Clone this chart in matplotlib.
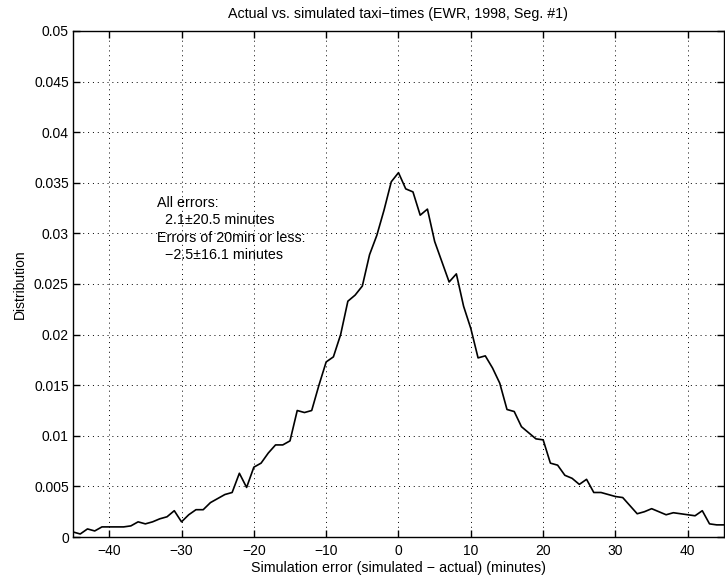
import numpy as np
import matplotlib
matplotlib.use("Agg")
import matplotlib.pyplot as plt
from matplotlib.ticker import FormatStrFormatter

# Simulation error bins (minutes), one per minute
minutes = list(range(-45, 46))

# Distribution
dist = [
    0.0005, 0.0003, 0.0008, 0.0006, 0.0010,   # -45..-41
    0.0010, 0.0010, 0.0010, 0.0011, 0.0015,   # -40..-36
    0.0013, 0.0015, 0.0018, 0.0020, 0.0026,   # -35..-31
    0.0015, 0.0022, 0.0027, 0.0027, 0.0034,   # -30..-26
    0.0038, 0.0042, 0.0044, 0.0063, 0.0049,   # -25..-21
    0.0069, 0.0073, 0.0083, 0.0091, 0.0091,   # -20..-16
    0.0095, 0.0125, 0.0123, 0.0125, 0.0150,   # -15..-11
    0.0173, 0.0178, 0.0200, 0.0233, 0.0239,   # -10..-6
    0.0248, 0.0279, 0.0298, 0.0323, 0.0351,   # -5..-1
    0.0360,                                   # 0
    0.0344, 0.0341, 0.0318, 0.0324, 0.0292,   # 1..5
    0.0272, 0.0252, 0.0260, 0.0228, 0.0206,   # 6..10
    0.0177, 0.0179, 0.0167, 0.0152, 0.0126,   # 11..15
    0.0124, 0.0109, 0.0103, 0.0097, 0.0096,   # 16..20
    0.0073, 0.0071, 0.0061, 0.0058, 0.0052,   # 21..25
    0.0057, 0.0044, 0.0044, 0.0042, 0.0040,   # 26..30
    0.0039, 0.0031, 0.0023, 0.0025, 0.0028,   # 31..35
    0.0025, 0.0022, 0.0024, 0.0023, 0.0022,   # 36..40
    0.0021, 0.0026, 0.0013, 0.0012, 0.0012,   # 41..45
]

xticks = [-40, -30, -20, -10, 0, 10, 20, 30, 40]
yticks = [0, 0.005, 0.01, 0.015, 0.02, 0.025, 0.03, 0.035, 0.04, 0.045, 0.05]

note = ("All errors:\n"
        "  2.1\u00b120.5 minutes\n"
        "Errors of 20min or less:\n"
        "  \u22122.5\u00b116.1 minutes")

plt.rcParams["font.family"] = ["Liberation Sans", "DejaVu Sans"]
plt.rcParams["font.size"] = 10

fig = plt.figure(figsize=(7.25, 5.79), dpi=100)
ax = fig.add_axes([0.1007, 0.0725, 0.8979, 0.874])

ax.plot(minutes, dist, color="black", linewidth=1.2)

ax.set_xlim(-45, 45)
ax.set_ylim(0, 0.05)
ax.set_xticks(xticks)
ax.set_yticks(yticks)
ax.yaxis.set_major_formatter(FormatStrFormatter("%g"))
ax.tick_params(direction="in", length=5, width=1, top=True, right=True,
               labelsize=10)
ax.tick_params(axis="x", pad=5)
ax.tick_params(axis="y", pad=3)
ax.grid(True, linestyle=(0, (1, 4)), color="black", linewidth=0.7)
for s in ax.spines.values():
    s.set_linewidth(1.0)
    s.set_color("black")

ax.set_title("Actual vs. simulated taxi\u2212times (EWR, 1998, Seg. #1)",
             fontsize=10.3, pad=9)
ax.set_xlabel("Simulation error (simulated \u2212 actual) (minutes)", fontsize=10.3,
              labelpad=2)
ax.set_ylabel("Distribution", fontsize=10, labelpad=5)

ax.text(-33.4, 0.0337, note, fontsize=10.3, va="top", ha="left", linespacing=1.3)

fig.savefig("out.png", dpi=100)
